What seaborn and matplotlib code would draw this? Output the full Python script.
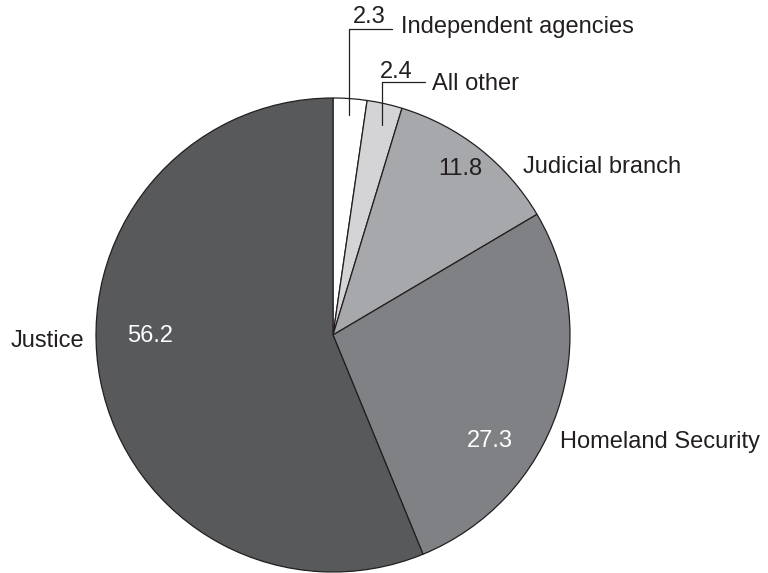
import matplotlib.pyplot as plt
import seaborn as sns

sns.set_theme(style="white")
plt.rcParams['font.family'] = ['Liberation Sans', 'DejaVu Sans']

# Data (percent shares), clockwise from the top
categories = ["Independent agencies", "All other", "Judicial branch", "Homeland Security", "Justice"]
shares = [2.3, 2.4, 11.8, 27.3, 56.2]
colors = ["#ffffff", "#d4d4d6", "#a7a8ab", "#808184", "#58595b"]

W, H = 768, 573
fig = plt.figure(figsize=(W / 100, H / 100), dpi=100)
ax = fig.add_axes([0, 0, 1, 1])

# pie in pixel-like coordinates (y axis flipped, so counterclock=True draws clockwise)
ax.pie(shares, colors=colors, startangle=-90, counterclock=True,
       center=(333, 335), radius=237, frame=True,
       wedgeprops=dict(edgecolor="#231f20", linewidth=0.9))
ax.set_xlim(0, W)
ax.set_ylim(H, 0)
ax.set_aspect('equal')
ax.axis('off')

fs = 17
txt = "#231f20"
# value labels inside slices
ax.text(460, 175, f"{shares[2]}", fontsize=fs, color=txt, ha='center', va='baseline')
ax.text(490, 447, f"{shares[3]}", fontsize=fs, color="white", ha='center', va='baseline')
ax.text(150, 342, f"{shares[4]}", fontsize=fs, color="white", ha='center', va='baseline')

# category labels outside
ax.text(523, 173, categories[2], fontsize=fs, color=txt, ha='left', va='baseline')
ax.text(560, 448, categories[3], fontsize=fs, color=txt, ha='left', va='baseline')
ax.text(11, 347, categories[4], fontsize=fs, color=txt, ha='left', va='baseline')

# small slices with leader lines
ax.plot([349, 349, 392], [115, 29, 29], color=txt, lw=0.9)
ax.text(369, 23, f"{shares[0]}", fontsize=fs, color=txt, ha='center', va='baseline')
ax.text(401, 33, categories[0], fontsize=fs, color=txt, ha='left', va='baseline')

ax.plot([382, 382, 425], [125, 82, 82], color=txt, lw=0.9)
ax.text(396, 78, f"{shares[1]}", fontsize=fs, color=txt, ha='center', va='baseline')
ax.text(432, 90, categories[1], fontsize=fs, color=txt, ha='left', va='baseline')

fig.savefig("out.png", dpi=100)
